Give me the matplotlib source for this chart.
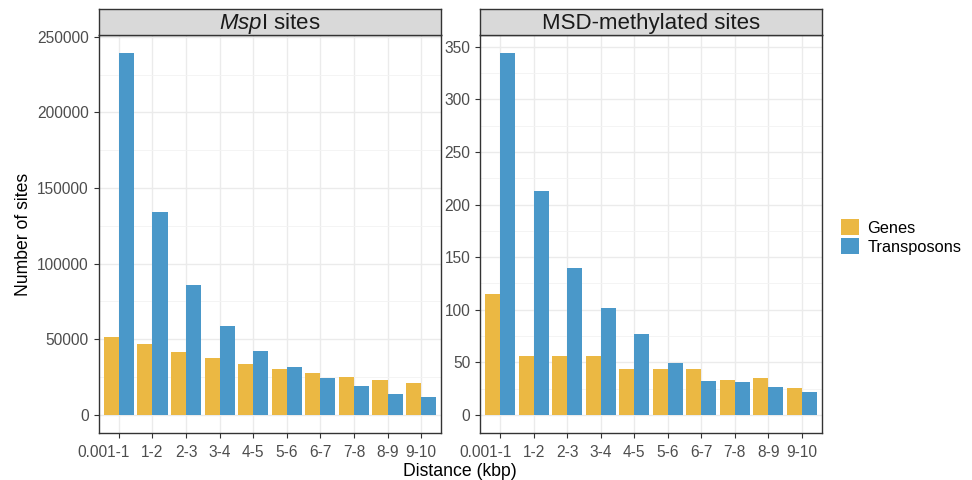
import numpy as np
import matplotlib
matplotlib.use("Agg")
import matplotlib.pyplot as plt
import matplotlib.transforms as mtransforms

plt.rcParams['font.family'] = ['Liberation Sans', 'DejaVu Sans']
plt.rcParams['mathtext.fontset'] = 'custom'
plt.rcParams['mathtext.rm'] = 'Liberation Sans'
plt.rcParams['mathtext.it'] = 'Liberation Sans:italic'

# data
bins = ["0.001-1", "1-2", "2-3", "3-4", "4-5", "5-6", "6-7", "7-8", "8-9", "9-10"]
msp_genes = [51750, 46900, 41600, 37700, 33450, 30400, 27950, 25100, 23100, 21150]
msp_tes = [239200, 134150, 86100, 59000, 42500, 31700, 24450, 18900, 14100, 11650]
msd_genes = [115, 56, 56, 56, 44, 44, 44, 33, 35, 26]
msd_tes = [344, 213, 140, 102, 77, 49, 32, 31, 27, 22]
msp_yticks = [0, 50000, 100000, 150000, 200000, 250000]
msd_yticks = [0, 50, 100, 150, 200, 250, 300, 350]

gold = '#EBB843'
blue = '#4A98C9'
W, H = 972, 480

fig = plt.figure(figsize=(9.72, 4.8), dpi=100)


def panel(x0, x1, genes, tes, yticks, title):
    ax = fig.add_axes([x0 / W, 1 - 433 / H, (x1 - x0) / W, (433 - 35) / H])
    x = np.arange(1, len(bins) + 1)
    ax.bar(x - 0.225, genes, width=0.45, color=gold, zorder=3, label='Genes')
    ax.bar(x + 0.225, tes, width=0.45, color=blue, zorder=3, label='Transposons')
    ax.set_xticks(x)
    ax.set_xticklabels(bins)
    ax.set_yticks(yticks)
    step = yticks[1] - yticks[0]
    ax.set_yticks([t + step / 2 for t in yticks], minor=True)
    top = max(max(genes), max(tes))
    ax.set_ylim(-0.05 * top, 1.05 * top)
    ax.set_xlim(0.4, 10.6)
    ax.grid(True, which='major', color='#EBEBEB', lw=1.0, zorder=0)
    ax.grid(True, which='minor', axis='y', color='#F3F3F3', lw=0.6, zorder=0)
    ax.tick_params(which='major', labelsize=11.2, labelcolor='#4D4D4D',
                   color='#333333', length=3.5, width=0.8)
    ax.tick_params(axis='x', which='major', pad=5)
    ax.tick_params(which='minor', length=0)
    # first label sits a bit left of its tick in the reference
    lab = ax.get_xticklabels()[0]
    lab.set_transform(lab.get_transform() + mtransforms.ScaledTranslation(-0.15, 0, fig.dpi_scale_trans))
    for s in ax.spines.values():
        s.set_color('#333333')
        s.set_linewidth(1.0)
    ax.set_axisbelow(True)
    # facet strip
    st = fig.add_axes([x0 / W, 1 - 35 / H, (x1 - x0) / W, 26 / H])
    st.set_facecolor('#D9D9D9')
    st.set_xticks([])
    st.set_yticks([])
    for s in st.spines.values():
        s.set_color('#333333')
        s.set_linewidth(1.0)
    st.text(0.5, 0.45, title, ha='center', va='center', fontsize=16,
            color='#1A1A1A', transform=st.transAxes)
    return ax


ax1 = panel(98.7, 441.3, msp_genes, msp_tes, msp_yticks, r'$\mathit{Msp}$I sites')
ax2 = panel(480, 822, msd_genes, msd_tes, msd_yticks, 'MSD-methylated sites')

fig.text(23 / W, 1 - 234 / H, 'Number of sites', rotation=90, ha='center',
         va='center', fontsize=12.7)
fig.text(460 / W, 1 - 471 / H, 'Distance (kbp)', ha='center', va='center',
         fontsize=12.7)

handles, labels = ax2.get_legend_handles_labels()
fig.legend(handles, labels, loc='center left', bbox_to_anchor=(833 / W, 1 - 237 / H),
           frameon=False, fontsize=11.8, handlelength=1.1, handleheight=1.1,
           handletextpad=0.5, labelspacing=0.15, borderpad=0)

fig.savefig('out.png', dpi=100)
